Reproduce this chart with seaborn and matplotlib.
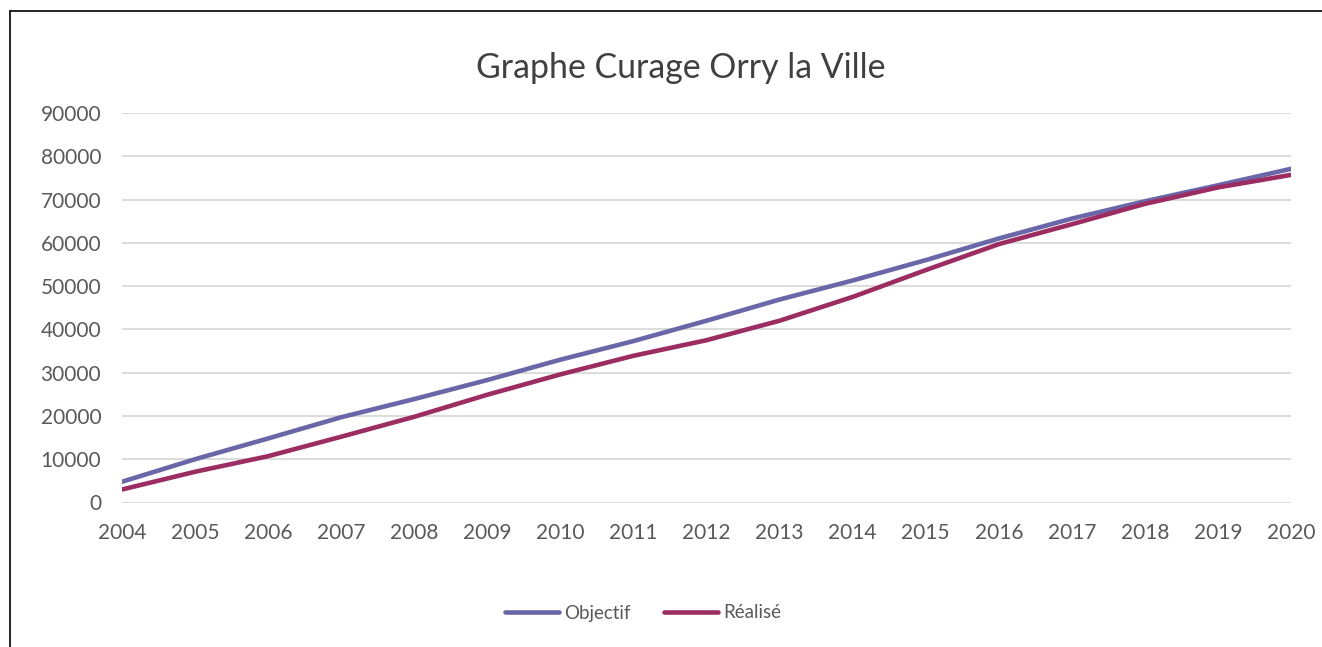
import pandas as pd
import seaborn as sns
import matplotlib.pyplot as plt
from matplotlib.lines import Line2D

years = list(range(2004, 2021))
objectif = [4800, 10000, 14800, 19700, 23900, 28300, 33000, 37300, 42000,
            46900, 51300, 56000, 61000, 65600, 69600, 73300, 77100]
realise = [3000, 7100, 10700, 15200, 19800, 24900, 29600, 33900, 37500,
           42000, 47500, 53700, 59700, 64300, 69000, 72800, 75700]
series_names = ["Objectif", "Réalisé"]
colors = ["#6A67A8", "#9C2D63"]

df = pd.DataFrame({"Année": years, "Objectif": objectif, "Réalisé": realise})
df = df.melt(id_vars="Année", var_name="Série", value_name="Valeur")

sns.set_style("white")
plt.rcParams["font.family"] = ["Lato", "DejaVu Sans"]

fig = plt.figure(figsize=(13.22, 6.47), dpi=100)
ax = fig.add_axes([122 / 1322, 1 - 502.5 / 647, (1291 - 122) / 1322, (502.5 - 113) / 647])

sns.lineplot(data=df, x="Année", y="Valeur", hue="Série", hue_order=series_names,
             palette=colors, linewidth=3.3, ax=ax, legend=False,
             solid_capstyle="round", solid_joinstyle="round")

ax.set_xlim(2004, 2020)
ax.set_ylim(0, 90000)
ax.set_xticks(years)
ax.set_yticks(range(0, 90001, 10000))
ax.set_xlabel("")
ax.set_ylabel("")
ax.grid(axis="y", color="#D9D9D9", linewidth=1.3)
ax.set_axisbelow(True)
for s in ax.spines.values():
    s.set_visible(False)
ax.tick_params(axis="both", length=0, labelsize=15, labelcolor="#595959")
ax.tick_params(axis="x", pad=15)
ax.tick_params(axis="y", pad=15)

fig.text(681 / 1322, 1 - 68 / 647, "Graphe Curage Orry la Ville", ha="center", va="center",
         fontsize=24.4, color="#404040")

handles = [Line2D([0], [0], color=c, linewidth=3.3, solid_capstyle="round") for c in colors]
fig.legend(handles, series_names, loc="center", bbox_to_anchor=(643 / 1322, 1 - 613 / 647),
           ncol=2, frameon=False, fontsize=13.5, labelcolor="#595959",
           handlelength=2.9, handletextpad=0.27, columnspacing=1.76)

# chart frame (left and top edges visible in the reference)
fig.add_artist(Line2D([9.5 / 1322, 9.5 / 1322], [0, 1 - 10.5 / 647], color="black", linewidth=1.2))
fig.add_artist(Line2D([9.5 / 1322, 1], [1 - 10.5 / 647, 1 - 10.5 / 647], color="black", linewidth=1.2))

fig.savefig("out.png", dpi=100)
